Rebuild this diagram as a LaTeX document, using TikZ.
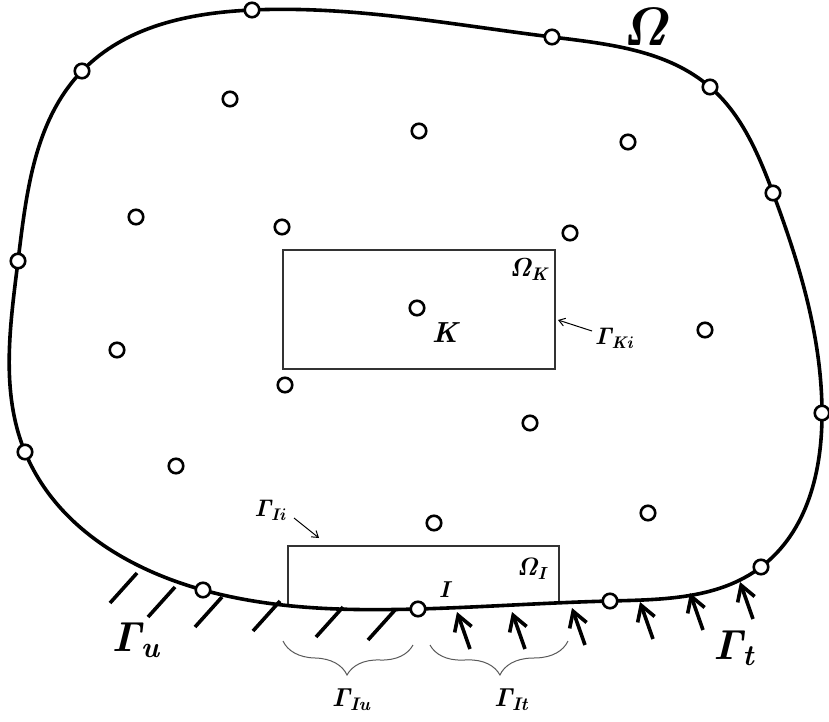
\RequirePackage{fix-cm}
\documentclass[tikz,border=0pt]{standalone}
\usetikzlibrary{arrows.meta,decorations.pathreplacing,calc,hobby}
\begin{document}
\begin{tikzpicture}[x=1pt,y=-1pt,
  pt/.style={circle, draw, line width=2.6pt, fill=white, minimum size=14.5pt, inner sep=0pt},
  bnd/.style={line width=3.6pt},
  hatch/.style={line width=3.6pt},
  load/.style={line width=3.6pt, -{Straight Barb[length=15pt,width=18pt,line width=3.6pt]}},
  thinarrow/.style={line width=1pt, -{Straight Barb[length=6pt,width=8pt]}},
  frame/.style={line width=1.1pt, draw=black!80},
  brc/.style={decorate, decoration={brace, mirror, amplitude=32pt}, line width=1pt, draw=black!65},
  lbl/.style={inner sep=0pt},
]
\useasboundingbox (0,0) rectangle (829,722);
% boundary coordinates
\coordinate (p1) at (82,71);
\coordinate (p2) at (252,10);
\coordinate (p3) at (552,37);
\coordinate (p4) at (710,87);
\coordinate (p5) at (773,193);
\coordinate (p6) at (822,413);
\coordinate (p7) at (761,567);
\coordinate (p8) at (610,601);
\coordinate (p9) at (418,609);
\coordinate (p10) at (203,590);
\coordinate (p11) at (25,452);
\coordinate (p12) at (18,261);

% subdomain frames clipped to the domain
\begin{scope}
  \clip plot[closed hobby] coordinates {(p1) (p2) (p3) (p4) (p5) (p6) (p7) (p8) (p9) (p10) (p11) (p12)};
  \draw[frame] (288,546) rectangle (559,660);
\end{scope}
\draw[frame] (283,250) rectangle (555,369);

% boundary
\draw[bnd] plot[closed hobby] coordinates {(p1) (p2) (p3) (p4) (p5) (p6) (p7) (p8) (p9) (p10) (p11) (p12)};

% fixed-support hatches
\foreach \x/\y [count=\i] in {137/573,175/587,222/597,280/601,343/607,395/610}{
  \coordinate (h\i) at (\x,\y);
  \draw[hatch] (h\i) -- ++(-27,30);
}
% traction arrows
\foreach \x/\y [count=\i] in {457/612,512/612,572/608,640/602,690/593,740/582}{
  \coordinate (a\i) at (\x,\y);
  \draw[load] ($(a\i)+(13,37)$) -- (a\i);
}

% boundary nodes
\foreach \i in {1,...,12}{ \node[pt] (b\i) at (p\i) {}; }

% interior nodes
\foreach \x/\y [count=\i] in {230/99,419/131,628/142,136/217,282/227,570/233,417/308,705/330,117/350,285/385,530/423,176/466,648/513,434/523}{
  \node[pt] (n\i) at (\x,\y) {};
}

% labels
\node[lbl, font=\fontsize{54}{54}\selectfont\boldmath] (lOm) at (647,27) {$\mathit{\Omega}$};
\node[lbl, font=\fontsize{42}{42}\selectfont\boldmath] (lGu) at (137,640) {$\mathit{\Gamma}_{\mathit{u}}$};
\node[lbl, font=\fontsize{42}{42}\selectfont\boldmath] (lGt) at (735,648) {$\mathit{\Gamma}_{\mathit{t}}$};
\node[lbl, font=\fontsize{26}{26}\selectfont\boldmath] (lOK) at (530,270) {$\mathit{\Omega}_{\mathit{K}}$};
\node[lbl, font=\fontsize{29}{29}\selectfont\boldmath] (lK) at (447,333) {$\mathit{K}$};
\node[lbl, font=\fontsize{24}{24}\selectfont\boldmath] (lGK) at (615,338) {$\mathit{\Gamma}_{\mathit{Ki}}$};
\node[lbl, font=\fontsize{24}{24}\selectfont\boldmath] (lGI) at (271,510) {$\mathit{\Gamma}_{\mathit{Ii}}$};
\node[lbl, font=\fontsize{25}{25}\selectfont\boldmath] (lOI) at (533,569) {$\mathit{\Omega}_{\mathit{I}}$};
\node[lbl, font=\fontsize{23}{23}\selectfont\boldmath] (lI) at (446,590) {$\mathit{I}$};
\node[lbl, font=\fontsize{26}{26}\selectfont\boldmath] (lGIu) at (352,700) {$\mathit{\Gamma}_{\mathit{Iu}}$};
\node[lbl, font=\fontsize{26}{26}\selectfont\boldmath] (lGIt) at (512,700) {$\mathit{\Gamma}_{\mathit{It}}$};

% pointer arrows
\coordinate (tK) at (558,320);
\coordinate (tI) at (319,538);
\coordinate (sK) at (592,331);
\coordinate (sI) at (294,518);
\draw[thinarrow] (sK) -- (tK);
\draw[thinarrow] (sI) -- (tI);

% braces
\coordinate (br1a) at (283,641);
\coordinate (br1b) at (413,645);
\coordinate (br2a) at (430,645);
\coordinate (br2b) at (568,641);
\draw[brc] (br1a) -- (br1b);
\draw[brc] (br2a) -- (br2b);
\end{tikzpicture}
\end{document}
